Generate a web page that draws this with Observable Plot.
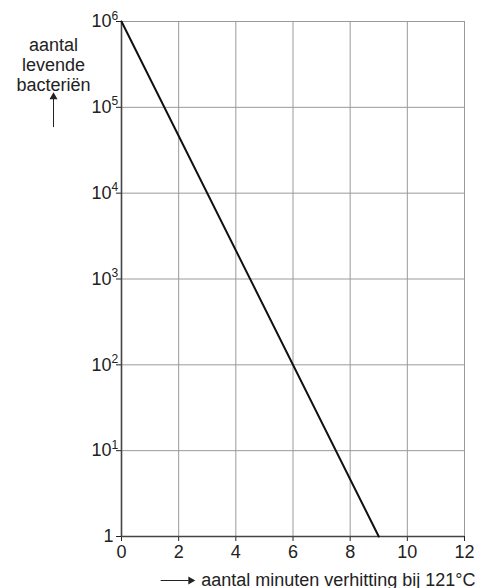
<!DOCTYPE html>
<html>
<head>
<meta charset="utf-8">
<script src="https://cdn.jsdelivr.net/npm/d3@7"></script>
<script src="https://cdn.jsdelivr.net/npm/@observablehq/plot@0.6"></script>
<style>
  html, body { margin: 0; padding: 0; background: #fff; }
</style>
</head>
<body>
<div id="chart"></div>
<script>
// Data
const minutes = [0, 9];
const bacteria = [1e6, 1];
const xTicks = [0, 2, 4, 6, 8, 10, 12];
const exponents = [0, 1, 2, 3, 4, 5, 6];
const yLabel = "aantal\nlevende\nbacteriën";
const xLabel = "aantal minuten verhitting bij 121°C";
// annotation arrow positions (data units)
const yArrow = {y1: Math.pow(10, 4.77), y2: Math.pow(10, 5.1), head: Math.pow(10, 5.12)};
const xArrow = {x1: 1.37, x2: 2.35, head: 2.42};

const line = minutes.map((m, i) => ({m, n: bacteria[i]}));
const decades = exponents.map(e => Math.pow(10, e));

const plot = Plot.plot({
  width: 481,
  height: 588,
  marginLeft: 121,
  marginRight: 17,
  marginTop: 21,
  marginBottom: 52,
  style: {fontFamily: "'Liberation Sans', Arial, sans-serif", fontSize: "18px", background: "#fff", color: "#222"},
  x: {domain: [0, 12], ticks: xTicks, tickSize: 5, tickPadding: 4, label: null, tickFormat: d => String(d)},
  y: {type: "log", domain: [1, 1e6], ticks: decades, tickSize: 5, tickFormat: () => "", label: null},
  marks: [
    // grid
    Plot.ruleX(xTicks.filter(d => d > 0), {stroke: "#9a9a9a", strokeWidth: 1}),
    Plot.ruleY(decades.filter(d => d > 1), {stroke: "#9a9a9a", strokeWidth: 1}),
    // axis lines
    Plot.ruleX([0], {stroke: "#444", strokeWidth: 1.6}),
    Plot.ruleY([1], {stroke: "#444", strokeWidth: 1.6}),
    // data line
    Plot.line(line, {x: "m", y: "n", stroke: "#111", strokeWidth: 2}),
    // y tick labels
    Plot.text(exponents.filter(e => e > 0), {x: 0, y: e => Math.pow(10, e), text: () => "10", textAnchor: "end", dx: -10, fontSize: 18, fill: "#222"}),
    Plot.text(exponents.filter(e => e > 0), {x: 0, y: e => Math.pow(10, e), text: e => String(e), textAnchor: "start", dx: -10, dy: -2, lineAnchor: "bottom", fontSize: 12, fill: "#222"}),
    Plot.text(exponents.filter(e => e === 0), {x: 0, y: e => Math.pow(10, e), text: () => "1", textAnchor: "end", dx: -8, fontSize: 18, fill: "#222"}),
    // y label
    Plot.text([yLabel], {x: 0, y: 1e6, text: d => d, dx: -68, dy: 15, lineAnchor: "top", textAnchor: "middle", lineHeight: 1.11, fontSize: 18, fill: "#222"}),
    Plot.link([yArrow], {x1: 0, x2: 0, y1: "y1", y2: "y2", dx: -68, stroke: "#222", strokeWidth: 1}),
    Plot.dot([yArrow], {x: 0, y: "head", dx: -68, symbol: "triangle", r: 3, fill: "#222", stroke: null}),
    // x label
    Plot.text([xLabel], {x: 12, y: 1, text: d => d, dx: 11, dy: 49, lineAnchor: "bottom", textAnchor: "end", fontSize: 18, fill: "#222"}),
    Plot.link([xArrow], {x1: "x1", x2: "x2", y1: 1, y2: 1, dy: 44, stroke: "#222", strokeWidth: 1}),
    Plot.dot([xArrow], {x: "head", y: 1, dy: 44, symbol: "triangle", rotate: 90, r: 3, fill: "#222", stroke: null})
  ]
});
document.getElementById("chart").append(plot);
</script>
</body>
</html>
